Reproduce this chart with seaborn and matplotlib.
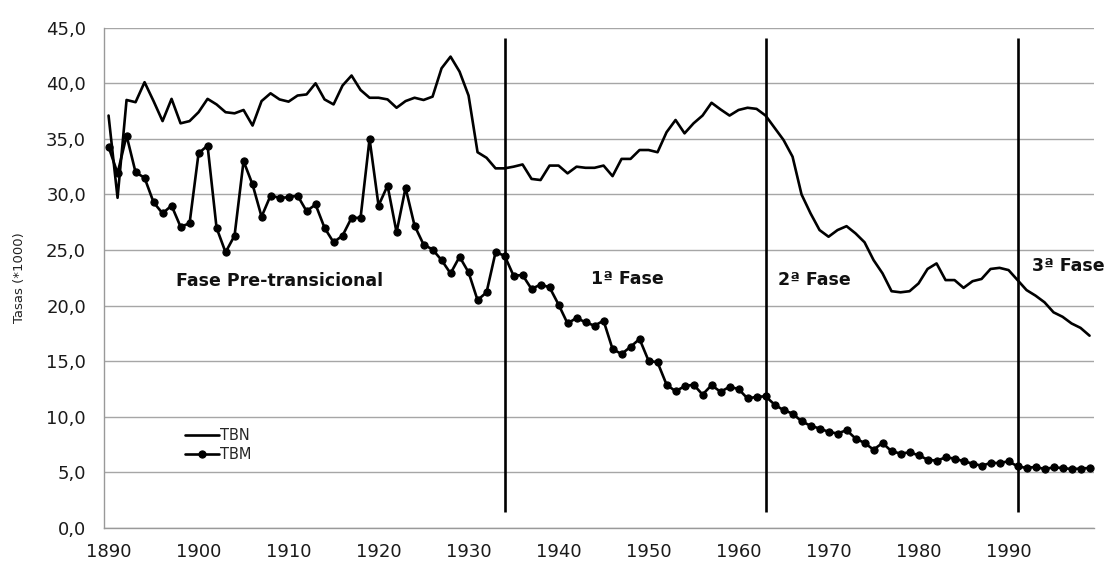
import numpy as np
import pandas as pd
import seaborn as sns
import matplotlib.pyplot as plt
from matplotlib.ticker import FixedLocator, FuncFormatter

# years (category axis)
years = np.arange(1890, 2000)

# birth rate per 1000
tbn = [37.1, 29.7, 38.5, 38.3, 40.1, 38.4, 36.6, 38.6, 36.4, 36.6,
       37.4, 38.6, 38.1, 37.4, 37.3, 37.6, 36.2, 38.4, 39.1, 38.55,
       38.35, 38.9, 39.0, 40.0, 38.55, 38.1, 39.8, 40.7, 39.4, 38.7,
       38.7, 38.55, 37.8, 38.4, 38.7, 38.5, 38.8, 41.35, 42.4, 41.05,
       38.9, 33.8, 33.3, 32.35, 32.35, 32.5, 32.7, 31.4, 31.3, 32.6,
       32.6, 31.9, 32.5, 32.4, 32.4, 32.6, 31.65, 33.2, 33.2, 34.0,
       34.0, 33.8, 35.6, 36.7, 35.5, 36.4, 37.1, 38.25, 37.65, 37.1,
       37.6, 37.8, 37.7, 37.1, 36.0, 34.9, 33.4, 30.0, 28.3, 26.8,
       26.2, 26.8, 27.15, 26.5, 25.7, 24.1, 22.9, 21.3, 21.2, 21.3,
       22.0, 23.3, 23.8, 22.3, 22.3, 21.6, 22.2, 22.4, 23.3, 23.4,
       23.2, 22.3, 21.4, 20.9, 20.3, 19.4, 19.0, 18.4, 18.0, 17.3]

# death rate per 1000
tbm = [34.3, 31.9, 35.3, 32.0, 31.5, 29.3, 28.3, 29.0, 27.1, 27.4,
       33.7, 34.4, 27.0, 24.8, 26.3, 33.0, 30.9, 28.0, 29.9, 29.7,
       29.75, 29.9, 28.5, 29.1, 27.0, 25.7, 26.3, 27.9, 27.9, 35.0,
       29.0, 30.8, 26.6, 30.6, 27.2, 25.5, 25.05, 24.1, 22.9, 24.4,
       23.0, 20.5, 21.2, 24.8, 24.5, 22.7, 22.75, 21.5, 21.9, 21.65,
       20.1, 18.4, 18.9, 18.5, 18.2, 18.65, 16.1, 15.65, 16.3, 17.0,
       15.05, 14.9, 12.9, 12.3, 12.75, 12.9, 12.0, 12.85, 12.25, 12.7,
       12.5, 11.65, 11.8, 11.85, 11.1, 10.6, 10.3, 9.6, 9.2, 8.95,
       8.65, 8.5, 8.8, 8.05, 7.65, 7.05, 7.65, 6.9, 6.7, 6.8,
       6.55, 6.15, 6.05, 6.35, 6.25, 6.0, 5.8, 5.6, 5.85, 5.85,
       6.0, 5.55, 5.4, 5.5, 5.3, 5.45, 5.4, 5.3, 5.35, 5.4]

# phase boundaries and labels
phase_years = [1934, 1963, 1991]
phase_labels = ['Fase Pre-transicional', '1ª Fase', '2ª Fase', '3ª Fase']
phase_x = [1909.0, 1947.7, 1968.4, 1996.6]
phase_y = [22.25, 22.4, 22.3, 23.6]

df = pd.DataFrame({'Year': years, 'TBN': tbn, 'TBM': tbm})

sns.set_style('white')
plt.rcParams['font.family'] = ['DejaVu Sans']

fig = plt.figure(figsize=(11.07, 5.61), dpi=100)
ax = fig.add_axes([0.0940, 0.0588, 0.8943, 0.8918])

sns.lineplot(data=df, x='Year', y='TBN', ax=ax, color='black', lw=1.9, label='TBN')
sns.lineplot(data=df, x='Year', y='TBM', ax=ax, color='black', lw=1.9, marker='o',
             markersize=5.2, markeredgecolor='black', label='TBM')

for yr in phase_years:
    ax.plot([yr, yr], [1.4, 44.1], color='black', lw=1.9, solid_capstyle='butt')

for lab, px, py in zip(phase_labels, phase_x, phase_y):
    ax.text(px, py, lab, ha='center', va='center', fontsize=12.5, fontweight='bold',
            color='#111111', clip_on=False)

ax.set_xlim(1889.5, 1999.5)
ax.set_ylim(0, 45)
ax.set_yticks(np.arange(0, 46, 5))
ax.yaxis.set_major_formatter(FuncFormatter(lambda v, p: f'{v:.1f}'.replace('.', ',')))
ax.xaxis.set_major_locator(FixedLocator(np.arange(1890, 2000, 10)))
ax.xaxis.set_minor_locator(FixedLocator(np.arange(1889.5, 2000, 1)))
ax.grid(axis='y', color='#a6a6a6', lw=1)
ax.set_axisbelow(True)

ax.tick_params(axis='x', which='major', length=0, pad=11, labelsize=13, labelcolor='#1a1a1a')
ax.tick_params(axis='x', which='minor', length=4.5, width=0.8, color='#999999', direction='out')
ax.tick_params(axis='y', length=6, width=0.8, color='#999999', direction='out', pad=7,
               labelsize=13, labelcolor='#1a1a1a')

for s in ['top', 'right']:
    ax.spines[s].set_visible(False)
for s in ['left', 'bottom']:
    ax.spines[s].set_color('#999999')
    ax.spines[s].set_linewidth(1)

ax.set_xlabel('')
ax.set_ylabel('Tasas (*1000)', fontsize=9.5, family=['Liberation Sans Narrow', 'DejaVu Sans'],
              color='#222222')
ax.yaxis.set_label_coords(-0.079, 0.5)

ax.legend(loc='upper left', bbox_to_anchor=(0.069, 0.226), frameon=False, fontsize=10.5,
          handlelength=2.3, handletextpad=0.1, labelspacing=0.3)

fig.savefig('out.png', dpi=100)
